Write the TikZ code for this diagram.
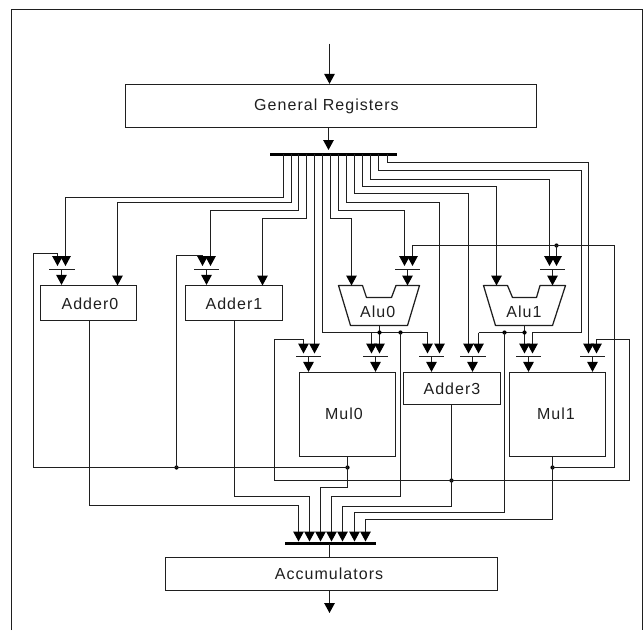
\documentclass[tikz,border=0pt]{standalone}
\usepackage{fontspec}
\setmainfont[LetterSpace=6.5]{Liberation Sans}
\usetikzlibrary{arrows.meta,calc}
\definecolor{ink}{gray}{0.12}
\tikzset{
  wire/.style={draw=ink,line width=1.25pt},
  arr/.style={wire,-{Triangle[width=10.5pt,length=10pt,color=black]}},
  box/.style={draw=ink,line width=1.25pt,inner sep=0pt,font=\fontsize{16}{19}\selectfont,text=ink},
  label/.style={inner sep=0pt,font=\fontsize{16}{19}\selectfont,text=ink},
  bar/.style={fill=ink,inner sep=0pt,minimum height=1.3pt},
  bus/.style={fill=black,inner sep=0pt,minimum height=3pt},
  dot/.style={circle,fill=black,inner sep=0pt,minimum size=4.2pt},
}
\begin{document}
\begin{tikzpicture}[x=1pt,y=-1pt]
\useasboundingbox (0,0) rectangle (644,630);
% frame
\coordinate (fa) at (11.5,630); \coordinate (fb) at (642.5,630);
\draw[wire] (fa) |- (642.5,9.5) -- (fb);
% boxes
\node[box,minimum width=411pt,minimum height=43pt,text depth=0pt] (GR) at (331,106) {};
\node[label] (GRt) at (326.5,106.5) {General Registers};
\node[box,minimum width=332pt,minimum height=33pt] (AC) at (331.5,574) {};
\node[label] (ACt) at (329,574) {Accumulators};
\node[box,minimum width=96pt,minimum height=35pt] (Adder0) at (88.5,303) {};
\node[label] (A0t) at (90,303.5) {Adder0};
\node[box,minimum width=97pt,minimum height=35pt] (Adder1) at (234,303) {};
\node[label] (A1t) at (234,303.5) {Adder1};
\node[box,minimum width=96pt,minimum height=84pt] (Mul0) at (347.5,414.5) {};
\node[label] (M0t) at (344,414) {Mul0};
\node[box,minimum width=97pt,minimum height=32pt] (Adder3) at (452,388.5) {};
\node[label] (A3t) at (452,388.5) {Adder3};
\node[box,minimum width=96pt,minimum height=84pt] (Mul1) at (557.5,414.5) {};
\node[label] (M1t) at (556,414) {Mul1};
% ALUs
\draw[wire,line join=round] (338.5,285.5) -- (362.5,285.5) -- (366.5,297.5) -- (391.5,297.5) -- (396,285.5) -- (419.5,285.5) -- (407.5,325.5) -- (350.5,325.5) -- cycle;
\draw[wire,line join=round] (483.5,285.5) -- (507.5,285.5) -- (512.5,297.5) -- (536.5,297.5) -- (540,285.5) -- (565.5,285.5) -- (552.5,325.5) -- (495.5,325.5) -- cycle;
\node[label] (Alu0) at (377.7,312) {Alu0};
\node[label] (Alu1) at (524,312) {Alu1};
% buses
\node[bus,minimum width=127pt] (BT) at (333.3,154) {};
\node[bus,minimum width=91pt] (BB) at (330.5,543.5) {};
% mux bars
\node[bar,minimum width=26pt] (m0) at (61.5,269.5) {};
\node[bar,minimum width=24.5pt] (m1) at (206.5,269.5) {};
\node[bar,minimum width=24.5pt] (m2) at (308.5,356.5) {};
\node[bar,minimum width=24.5pt] (m3) at (375.5,356.5) {};
\node[bar,minimum width=24.3pt] (m4) at (407.5,269.5) {};
\node[bar,minimum width=24.3pt] (m5) at (552.5,269.5) {};
\node[bar,minimum width=25pt] (m6) at (431.5,356.5) {};
\node[bar,minimum width=26pt] (m7) at (472.5,356.5) {};
\node[bar,minimum width=24.3pt] (m8) at (528.5,356.5) {};
\node[bar,minimum width=24.3pt] (m9) at (592.5,356.5) {};
\draw[arr] (m0.center) -- (m0.center |- Adder0.north);
\draw[arr] (m1.center) -- (m1.center |- Adder1.north);
\draw[arr] (m2.center) -- (m2.center |- Mul0.north);
\draw[arr] (m3.center) -- (m3.center |- Mul0.north);
\draw[arr] (m4.center) -- (m4.center |- 0,285.5);
\draw[arr] (m5.center) -- (m5.center |- 0,285.5);
\draw[arr] (m6.center) -- (m6.center |- Adder3.north);
\draw[arr] (m7.center) -- (m7.center |- Adder3.north);
\draw[arr] (m8.center) -- (m8.center |- Mul1.north);
\draw[arr] (m9.center) -- (m9.center |- Mul1.north);
% top / bottom arrows
\coordinate (inp) at (329.5,43.5);
\coordinate (outp) at (329.5,613);
\draw[arr] (inp) -- (inp |- GR.north);
\draw[arr] (GR.south -| 328.5,0) -- (328.5,150);
\draw[wire] (BB.center -| 329.5,0) -- (AC.north -| 329.5,0);
\draw[arr] (AC.south -| outp) -- (outp);
% register bus fan-out
\draw[arr] (BT.center -| 283.5,0) -- (283.5,197.5) -| (65.5,266);
\draw[arr] (BT.center -| 291.5,0) -- (291.5,202.5) -| (117.5,285.5);
\draw[arr] (BT.center -| 298.5,0) -- (298.5,210.5) -| (210.5,266);
\draw[arr] (BT.center -| 306.5,0) -- (306.5,218.5) -| (262.5,285.5);
\draw[arr] (BT.center -| 314.5,0) -- (314.5,353.5);
\draw[wire] (BT.center -| 322.5,0) |- (427.5,332.5);
\draw[arr] (BT.center -| 330.5,0) -- (330.5,218.5) -| (351.5,285.5);
\draw[arr] (BT.center -| 338.5,0) -- (338.5,210.5) -| (404.5,266);
\draw[arr] (BT.center -| 346.5,0) -- (346.5,202.5) -| (439.5,353.5);
\draw[arr] (BT.center -| 354.5,0) -- (354.5,193.5) -| (468.5,353.5);
\draw[arr] (BT.center -| 362.5,0) -- (362.5,186.5) -| (496.5,285.5);
\draw[arr] (BT.center -| 370.5,0) -- (370.5,179.5) -| (549.5,266);
\draw[arr] (BT.center -| 378.5,0) -- (378.5,170.5) -| (581.5,332.5) -| (532.5,353.5);
\draw[arr] (BT.center -| 387.5,0) -- (387.5,162.5) -| (588.5,353.5);
% ALU outputs and mux arrows
\draw[arr] (371.5,332.5) -- (371.5,353.5);
\draw[arr] (379.5,325.5) -- (379.5,353.5);
\draw[arr] (427.5,332.5) -- (427.5,353.5);
\draw[wire] (478.5,332.5) -- (524.5,332.5);
\draw[arr] (478.5,332.5) -- (478.5,353.5);
\draw[arr] (524.5,325.5) -- (524.5,353.5);
\node[dot] (d0) at (379.5,332.5) {};
\node[dot] (d1) at (400.5,332.5) {};
\node[dot] (d2) at (504.5,332.5) {};
\node[dot] (d3) at (524.5,332.5) {};
% feedback
\node[dot] (d4) at (347.5,467.5) {};
\node[dot] (d5) at (176.5,467.5) {};
\node[dot] (d6) at (552.5,467.5) {};
\node[dot] (d7) at (451.5,480.5) {};
\node[dot] (d8) at (556.5,245.5) {};
\draw[arr] (d4.center) -- (33.5,467.5) -- (33.5,253.5) -| (57.5,266);
\draw[arr] (d5.center) -- (176.5,255.5) -| (202.5,266);
\draw[arr] (d6.center) -- (614.5,467.5) -- (614.5,245.5) -| (412.5,266);
\draw[arr] (d8.center) -- (556.5,266);
\draw[arr] (d7.center) -- (274.5,480.5) -- (274.5,339.5) -| (303.5,353.5);
\draw[arr] (d7.center) -- (629.5,480.5) -- (629.5,339.5) -| (596.5,353.5);
% outputs to accumulator bus
\draw[arr] (Adder0.south -| 89.5,0) -- (89.5,505.5) -| (298.5,541.5);
\draw[arr] (Adder1.south -| 234.5,0) -- (234.5,496.5) -| (309.5,541.5);
\draw[arr] (Mul0.south -| 347.5,0) -- (347.5,487.5) -| (320.5,541.5);
\draw[arr] (d1.center) -- (400.5,496.5) -| (331.5,541.5);
\draw[arr] (Adder3.south -| 451.5,0) -- (451.5,506.5) -| (342.5,541.5);
\draw[arr] (d2.center) -- (504.5,512.5) -| (354.5,541.5);
\draw[arr] (Mul1.south -| 552.5,0) -- (552.5,519.5) -| (365.5,541.5);
\end{tikzpicture}
\end{document}
